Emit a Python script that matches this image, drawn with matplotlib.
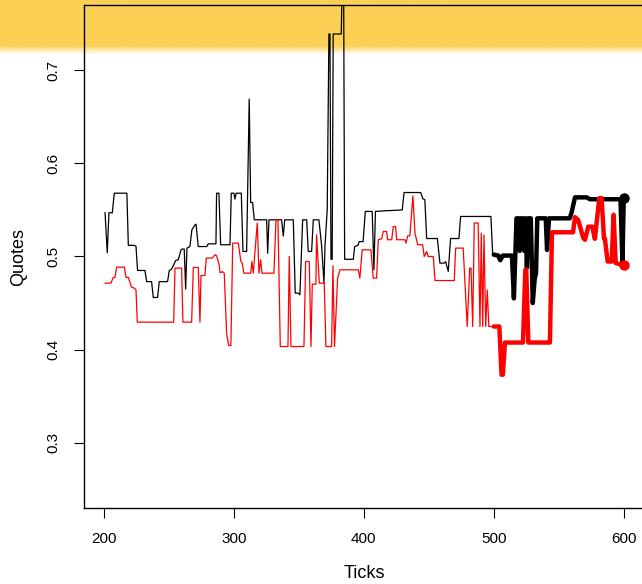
import numpy as np
import matplotlib
matplotlib.use("Agg")
import matplotlib.pyplot as plt

plt.rcParams['font.family'] = ['Liberation Sans', 'DejaVu Sans']

# Black quote series, thin part (ticks 201-500)
black_thin_x = [201, 202.7, 204, 206.6, 208.1, 217.8, 218.9, 223.5, 224.8, 226, 231.7, 233, 236.8,
                238.1, 241.4, 242.7, 249.1, 250.4, 252.2, 253.8, 255.3, 257.3, 259.4, 260.4, 261.9,
                263, 264, 266.3, 267.8, 270.2, 271, 272.7, 279.2, 280.4, 286.3, 286.8, 288.6, 289.9,
                297.1, 298.1, 300.2, 300.9, 301.9, 305.8, 307.1, 309.9, 311.9, 313, 314.5, 315.8,
                325.3, 326.1, 327.1, 336.8, 338.1, 339.2, 345.8, 347.3, 349.6, 350.9, 353, 356.1,
                357.3, 359.9, 361.2, 365.5, 367.6, 369.4, 370.2, 371.9, 373.2, 374, 374.8, 375.7,
                376.5, 382.7, 383.5, 384.5, 385.3, 392, 393, 395.5, 396.5, 399.5, 401.2, 406.5,
                407.8, 409, 415, 429.6, 431, 443.8, 445.5, 447, 448.4, 456.6, 458.6, 462, 463,
                465, 466.8, 473.2, 474.5, 497.8, 499.2, 500]
black_thin_y = [0.547, 0.504, 0.547, 0.547, 0.568, 0.568, 0.512, 0.512, 0.511, 0.485, 0.485, 0.473, 0.473,
                0.456, 0.456, 0.473, 0.473, 0.485, 0.4865, 0.491, 0.4957, 0.4965, 0.507, 0.508, 0.508,
                0.465, 0.509, 0.5107, 0.5287, 0.534, 0.5347, 0.5107, 0.5107, 0.5136, 0.5136, 0.568, 0.568, 0.5126,
                0.5126, 0.568, 0.568, 0.5617, 0.568, 0.568, 0.5054, 0.5054, 0.669, 0.558, 0.558, 0.5394,
                0.5394, 0.5036, 0.5394, 0.5394, 0.522, 0.5394, 0.5394, 0.4607, 0.4607, 0.4589, 0.5394, 0.5394,
                0.5054, 0.5054, 0.5394, 0.5394, 0.5115, 0.4714, 0.5115, 0.5502, 0.739, 0.739, 0.497, 0.497,
                0.739, 0.739, 0.80, 0.80, 0.497, 0.497, 0.5107, 0.512, 0.516, 0.516, 0.5484, 0.5484,
                0.4857, 0.5484, 0.549, 0.55, 0.5687, 0.5687, 0.562, 0.561, 0.5193, 0.5193, 0.4929, 0.4929, 0.4945,
                0.484, 0.5193, 0.5193, 0.543, 0.543, 0.502, 0.502]

# Red quote series, thin part
red_thin_x = [201, 205.5, 207.3, 208.6, 209.9, 215.8, 217.1, 218.9, 220.2, 221.4, 223.5, 224.8, 225.8,
              253.8, 254.8, 259.9, 260.9, 267.6, 268.9, 272.7, 274, 274.8, 277.8, 278.9, 283.5,
              285.5, 286.8, 288.8, 289.4, 290.2, 291.2, 292.7, 294.5, 296.1, 297.8, 299.2, 303.5,
              305.5, 306.5, 307.8, 313, 314, 315, 318.1, 319.4, 320.7, 321.7, 330.9, 332.5, 334,
              335.8, 341.7, 342.7, 344, 354, 355.3, 358.1, 359.4, 360.4, 363.2, 363.7, 365.8,
              369.6, 370.9, 375.3, 376.3, 377.5, 379.9, 381.7, 395.8, 397, 398.8, 405.5, 407.3,
              409.9, 411.2, 413.8, 415, 417.6, 418.4, 421.5, 422.7, 424.5, 425.3, 431.7, 432.5,
              433.8, 435.5, 437.8, 439.4, 441.5, 445.3, 446.5, 448.4, 449.6, 453.5, 454.8, 469.6,
              470.7, 476.5, 477.8, 479.6, 481.5, 482.5, 483.8, 485, 488, 489.4, 490.4, 491.5,
              492.5, 493.8, 495, 496.2, 500]
red_thin_y = [0.4714, 0.4714, 0.4775, 0.4775, 0.4886, 0.4886, 0.4775, 0.4775, 0.4721, 0.4671, 0.466, 0.4642, 0.4295,
              0.4295, 0.4875, 0.4875, 0.4295, 0.4295, 0.4882, 0.4882, 0.4295, 0.4796, 0.4796, 0.4983, 0.4983,
              0.5018, 0.5008, 0.4911, 0.4828, 0.4828, 0.4839, 0.4821, 0.4177, 0.4044, 0.4044, 0.5144, 0.5144,
              0.4946, 0.4929, 0.4821, 0.4821, 0.4946, 0.4821, 0.5359, 0.4821, 0.4965, 0.4821, 0.4821, 0.5394, 0.5394,
              0.4033, 0.4033, 0.5, 0.4033, 0.4033, 0.4946, 0.4946, 0.4033, 0.4703, 0.4703, 0.5233, 0.4714,
              0.4714, 0.4033, 0.4033, 0.49, 0.4033, 0.4768, 0.4857, 0.4857, 0.4768, 0.5072, 0.5072, 0.4768,
              0.4768, 0.518, 0.519, 0.5269, 0.5269, 0.518, 0.518, 0.5322, 0.5322, 0.518, 0.518, 0.5144,
              0.5222, 0.5222, 0.5652, 0.5251, 0.5126, 0.5126, 0.5, 0.5054, 0.5, 0.5, 0.4742, 0.4742,
              0.509, 0.509, 0.473, 0.4248, 0.4875, 0.4875, 0.4248, 0.536, 0.536, 0.4248, 0.5251, 0.4248,
              0.523, 0.4248, 0.464, 0.4248, 0.4248]

# Thick parts (ticks 500-600)
black_thick_x = [500, 503.5, 505, 507, 514, 515.5, 517.5, 519, 520, 521, 522.5, 523.5, 524.5, 525.5,
                 526.5, 528.5, 530, 531.5, 532.5, 533.5, 540, 541, 542.5, 558.5, 560, 562.5, 571.5,
                 574, 597.5, 599, 600]
black_thick_y = [0.502, 0.501, 0.496, 0.501, 0.501, 0.455, 0.541, 0.541, 0.506, 0.541, 0.541, 0.506, 0.541, 0.488,
                 0.541, 0.541, 0.45, 0.476, 0.482, 0.541, 0.541, 0.507, 0.541, 0.541, 0.548, 0.5635, 0.5635,
                 0.5615, 0.5615, 0.493, 0.563]
red_thick_x = [500, 504.3, 506, 507, 508.6, 522.5, 524.3, 525, 526.6, 543.2, 544.8, 561, 562.5, 565,
               568.9, 570.2, 572.7, 575.8, 577.8, 581.2, 583, 584.8, 585.5, 587.6, 590.7, 592.2,
               593.8, 597.1, 600]
red_thick_y = [0.4248, 0.4248, 0.373, 0.373, 0.4076, 0.4076, 0.4857, 0.4857, 0.4076, 0.4076, 0.526, 0.526, 0.5423, 0.539,
               0.5197, 0.518, 0.532, 0.532, 0.519, 0.5627, 0.5627, 0.519, 0.519, 0.4946, 0.4946, 0.5448,
               0.4929, 0.4918, 0.491]

x_ticks = [200, 300, 400, 500, 600]
y_ticks = [0.3, 0.4, 0.5, 0.6, 0.7]

W, H = 642, 584
fig = plt.figure(figsize=(W / 100, H / 100), dpi=100, facecolor='white')

# yellow highlight band across the top
bg = fig.add_axes([0, 0, 1, 1])
bg.set_axis_off()
alpha = np.zeros(H)
alpha[:45] = 1.0
alpha[45:55] = np.linspace(1.0, 0.0, 10)
band = np.zeros((H, 1, 4))
band[..., 0] = 252 / 255
band[..., 1] = 208 / 255
band[..., 2] = 84 / 255
band[:, 0, 3] = alpha
bg.imshow(band, aspect='auto', extent=(0, 1, 0, 1), interpolation='bilinear')
bg.set_xlim(0, 1)
bg.set_ylim(0, 1)

ax = fig.add_axes([84.3 / W, (H - 507.9) / H, (644.5 - 84.3) / W, (507.9 - 5.1) / H])
ax.set_zorder(1)
ax.patch.set_visible(False)

ax.plot(black_thin_x, black_thin_y, color='black', lw=0.9)
ax.plot(red_thin_x, red_thin_y, color='red', lw=0.9)
ax.plot(black_thick_x, black_thick_y, color='black', lw=3.2, solid_joinstyle='round', solid_capstyle='round')
ax.plot(red_thick_x, red_thick_y, color='red', lw=3.2, solid_joinstyle='round', solid_capstyle='round')
ax.plot([black_thick_x[-1]], [black_thick_y[-1]], 'o', color='black', ms=6.5)
ax.plot([red_thick_x[-1]], [red_thick_y[-1]], 'o', color='red', ms=6.5)

ax.set_xlim(185.04, 615.96)
ax.set_ylim(0.23, 0.77)
ax.set_xticks(x_ticks)
ax.set_xticklabels([str(t) for t in x_ticks])
ax.set_yticks(y_ticks)
ax.set_yticklabels([f"{t:.1f}" for t in y_ticks], rotation=90, va='center')
ax.tick_params(direction='out', length=7, width=0.8, labelsize=11, pad=10, colors='black')

for s in ax.spines.values():
    s.set_linewidth(1.0)
    s.set_color('black')

ax.set_xlabel('Ticks', fontsize=13, labelpad=14)
ax.set_ylabel('Quotes', fontsize=13, labelpad=14)

fig.savefig('out.png', dpi=100, facecolor='white')
